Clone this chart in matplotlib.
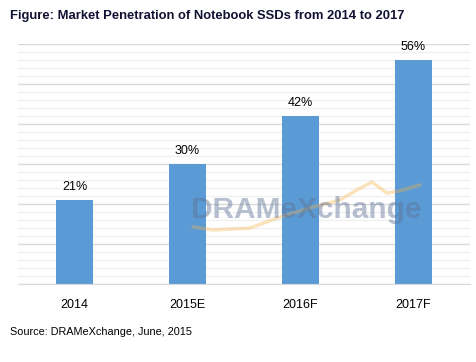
import matplotlib
matplotlib.use("Agg")
import matplotlib.pyplot as plt
from matplotlib.ticker import MultipleLocator

plt.rcParams['font.family'] = ['Liberation Sans', 'DejaVu Sans']

years = ['2014', '2015E', '2016F', '2017F']
penetration = [21, 30, 42, 56]
value_labels = ['21%', '30%', '42%', '56%']

fig = plt.figure(figsize=(4.76, 3.62), dpi=100)
ax = fig.add_axes([18 / 476, 1 - 284 / 362, 452 / 476, 240 / 362])

x = range(len(years))
ax.bar(x, penetration, width=0.32, color='#5B9BD5', zorder=3)
for i, v in enumerate(penetration):
    ax.text(i, v + 1.7, value_labels[i], ha='center', va='bottom', fontsize=9, color='#000000', zorder=4)

ax.set_xlim(-0.5, len(years) - 0.5)
ax.set_ylim(0, 60)
ax.yaxis.set_major_locator(MultipleLocator(10))
ax.yaxis.set_minor_locator(MultipleLocator(2))
ax.grid(axis='y', which='major', color='#d9d9d9', linewidth=1, zorder=0)
ax.grid(axis='y', which='minor', color='#f0f0f0', linewidth=1, zorder=0)
ax.set_xticks(list(x))
ax.set_xticklabels(years, fontsize=9)
ax.tick_params(axis='x', length=0, pad=11)
ax.tick_params(axis='y', which='both', length=0, labelleft=False)
for s in ['top', 'right', 'left']:
    ax.spines[s].set_visible(False)
ax.spines['bottom'].set_color('#d9d9d9')
ax.spines['bottom'].set_zorder(5)

# watermark: orange swoosh + logo text
ax.plot([0.387, 0.431, 0.513, 0.580, 0.653, 0.712, 0.750, 0.783, 0.801, 0.816, 0.845, 0.889],
        [0.238, 0.225, 0.233, 0.279, 0.321, 0.350, 0.392, 0.425, 0.400, 0.379, 0.388, 0.413],
        transform=ax.transAxes, color='#f5b041', alpha=0.35, linewidth=2.5, zorder=4,
        solid_capstyle='round', solid_joinstyle='round')
ax.text(0.637, 0.31, 'DRAMeXchange', transform=ax.transAxes, ha='center', va='center',
        fontsize=21.5, fontweight='bold', color='#5f7296', alpha=0.45, zorder=5)

fig.text(10 / 476, 1 - 16 / 362, 'Figure: Market Penetration of Notebook SSDs from 2014 to 2017',
         fontsize=9.4, fontweight='bold', color='#111133', va='center', ha='left')
fig.text(10 / 476, 1 - 332 / 362, 'Source: DRAMeXchange, June, 2015',
         fontsize=7.8, color='#000000', va='center', ha='left')

fig.savefig('out.png', dpi=100, facecolor='white')
